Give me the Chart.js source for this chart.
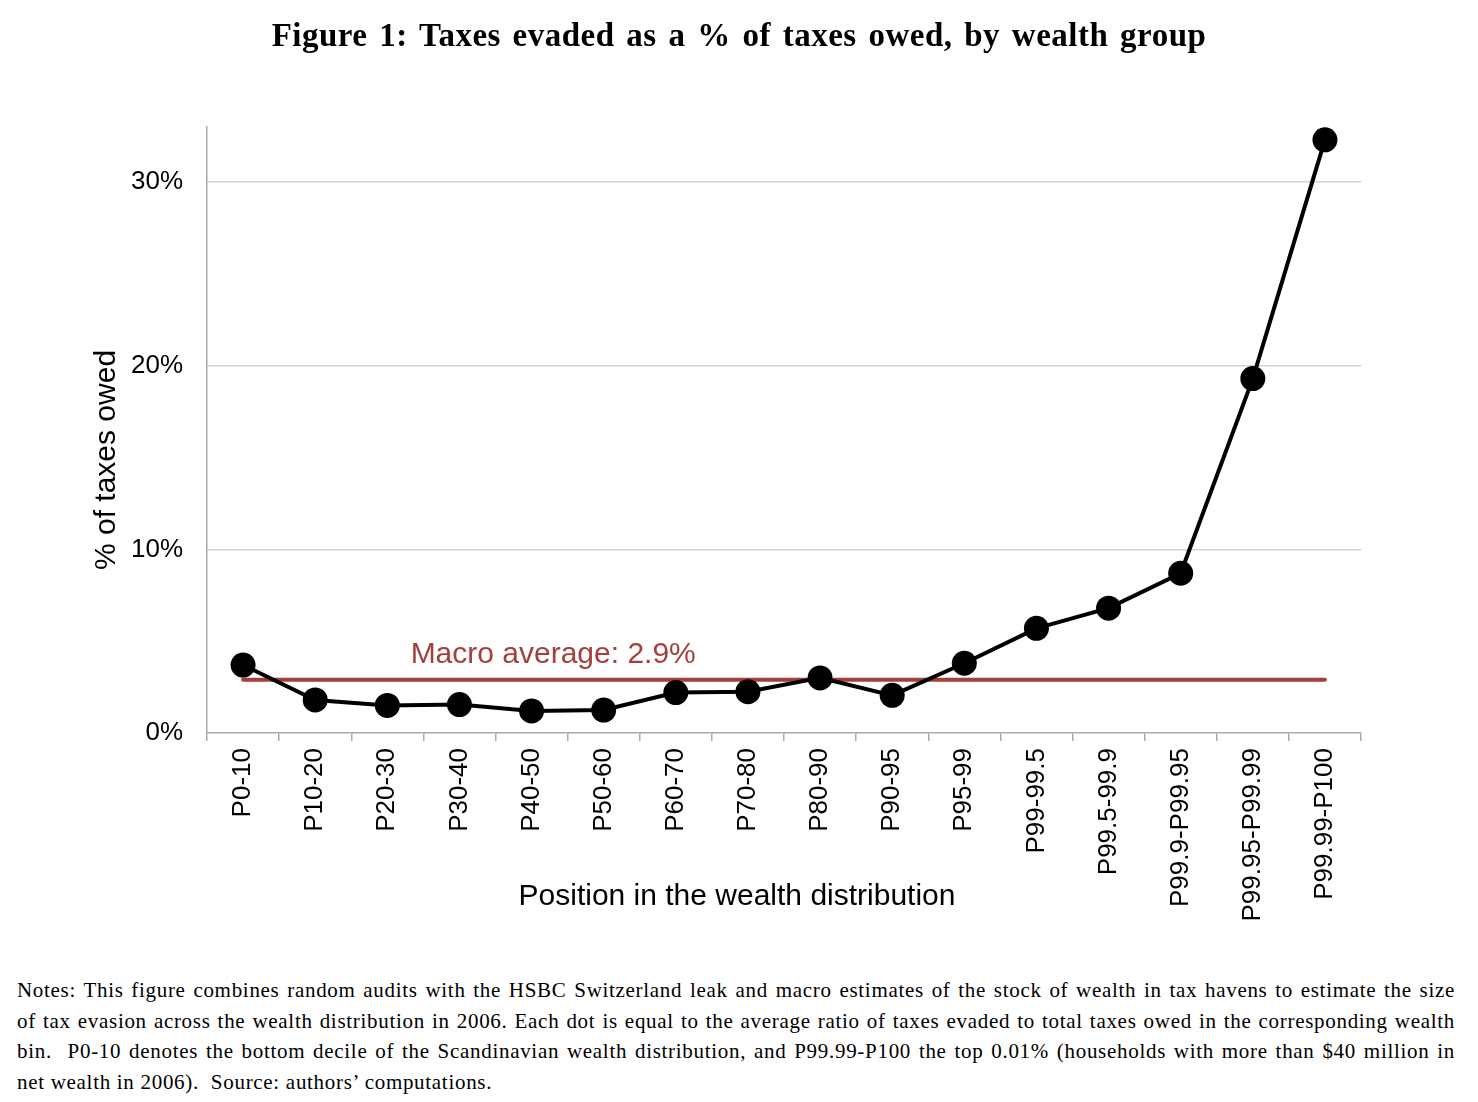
<!DOCTYPE html>
<html>
<head>
<meta charset="utf-8">
<script src="https://cdn.jsdelivr.net/npm/chart.js@4"></script>
<style>
  html, body { margin: 0; padding: 0; background: #fff; }
  body { width: 1478px; height: 1102px; position: relative; overflow: hidden; }
  #wrap { position: absolute; left: 0; top: 0; width: 1478px; height: 940px; }
  #title {
    position: absolute; left: 0; top: 17px; width: 1478px; text-align: center;
    font-family: "Liberation Serif", "DejaVu Serif", serif; font-weight: bold;
    font-size: 33px; color: #000; letter-spacing: 0.5px; word-spacing: 3px;
  }
  #notes {
    position: absolute; left: 17px; top: 975px; width: 1438px;
    font-family: "Liberation Serif", "DejaVu Serif", serif; font-size: 21px;
    letter-spacing: 0.7px; line-height: 30.7px; color: #000;
  }
  #notes .ln { display: block; text-align: justify; text-align-last: justify; }
  #notes .ln.last { text-align-last: left; white-space: nowrap; }
</style>
</head>
<body>
<div id="wrap"><canvas id="lineChart"></canvas></div>
<div id="title">Figure 1: Taxes evaded as a % of taxes owed, by wealth group</div>
<div id="notes">
  <span class="ln">Notes: This figure combines random audits with the HSBC Switzerland leak and macro estimates of the stock of wealth in tax havens to estimate the size</span>
  <span class="ln">of tax evasion across the wealth distribution in 2006. Each dot is equal to the average ratio of taxes evaded to total taxes owed in the corresponding wealth</span>
  <span class="ln">bin. &nbsp;P0-10 denotes the bottom decile of the Scandinavian wealth distribution, and P99.99-P100 the top 0.01% (households with more than $40 million in</span>
  <span class="ln last">net wealth in 2006). &nbsp;Source: authors’ computations.</span>
</div>
<script>
const grupos = ['P0-10', 'P10-20', 'P20-30', 'P30-40', 'P40-50', 'P50-60', 'P60-70', 'P70-80',
  'P80-90', 'P90-95', 'P95-99', 'P99-99.5', 'P99.5-99.9', 'P99.9-P99.95', 'P99.95-P99.99', 'P99.99-P100'];
const evadido = [3.7, 1.8, 1.5, 1.55, 1.2, 1.25, 2.2, 2.25, 3.0, 2.05, 3.8, 5.7, 6.8, 8.7, 19.3, 32.3];
const promedioMacro = 2.9;
const ticksY = [0, 10, 20, 30];

const rojo = '#a3403b';

// etiquetas y títulos de ejes dibujados a mano
const textosPlugin = {
  id: 'textos',
  afterDraw(chart) {
    const { ctx, chartArea, scales } = chart;
    ctx.save();
    ctx.fillStyle = rojo;
    ctx.font = '30px "Liberation Sans", Arial, sans-serif';
    ctx.textAlign = 'center';
    ctx.textBaseline = 'bottom';
    ctx.fillText('Macro average: ' + promedioMacro + '%', scales.x.getPixelForValue(4.3),
      scales.y.getPixelForValue(promedioMacro) - 10);

    ctx.fillStyle = '#000';
    ctx.textBaseline = 'middle';
    ctx.fillText('Position in the wealth distribution', chartArea.left + 530, 897);

    ctx.translate(107, chartArea.top + 333);
    ctx.rotate(-Math.PI / 2);
    ctx.fillText('% of taxes owed', 0, 0);
    ctx.restore();
  }
};

const ctx = document.getElementById('lineChart').getContext('2d');
const chartEvasion = new Chart(ctx, {
  type: 'line',
  data: {
    labels: grupos,
    datasets: [{
      label: 'Evaded',
      data: evadido,
      borderColor: '#000',
      backgroundColor: '#000',
      borderWidth: 4,
      pointRadius: 12.5,
      pointHoverRadius: 12.5,
      pointBorderWidth: 0,
      tension: 0,
      order: 0
    }, {
      label: 'Macro average',
      data: grupos.map(() => promedioMacro),
      borderColor: rojo,
      borderWidth: 4,
      pointRadius: 0,
      borderCapStyle: 'round',
      order: 1
    }]
  },
  options: {
    responsive: true,
    maintainAspectRatio: false,
    animation: false,
    layout: { padding: { top: 127, right: 117, left: 0, bottom: 0 } },
    plugins: { legend: { display: false }, tooltip: { enabled: false } },
    scales: {
      x: {
        offset: true,
        afterFit: s => { s.height = 207; },
        grid: { offset: true, drawOnChartArea: false, drawTicks: true, tickLength: 8, color: '#aaa', lineWidth: 1.5 },
        border: { color: '#aaa', width: 1.5 },
        ticks: {
          autoSkip: false, maxRotation: 90, minRotation: 90, padding: 7, color: '#000',
          font: { family: '"Liberation Sans", Arial, sans-serif', size: 26 }
        }
      },
      y: {
        min: 0,
        max: 33,
        afterFit: s => { s.width = 207; },
        afterBuildTicks: s => { s.ticks = ticksY.map(v => ({ value: v })); },
        grid: { drawTicks: false, color: c => c.tick.value === 0 ? 'rgba(0,0,0,0)' : '#d4d4d4', lineWidth: 1.5 },
        border: { color: '#aaa', width: 1.5 },
        ticks: {
          padding: 24, color: '#000',
          font: { family: '"Liberation Sans", Arial, sans-serif', size: 26 },
          callback: v => v + '%'
        }
      }
    }
  },
  plugins: [textosPlugin]
});
</script>
</body>
</html>
